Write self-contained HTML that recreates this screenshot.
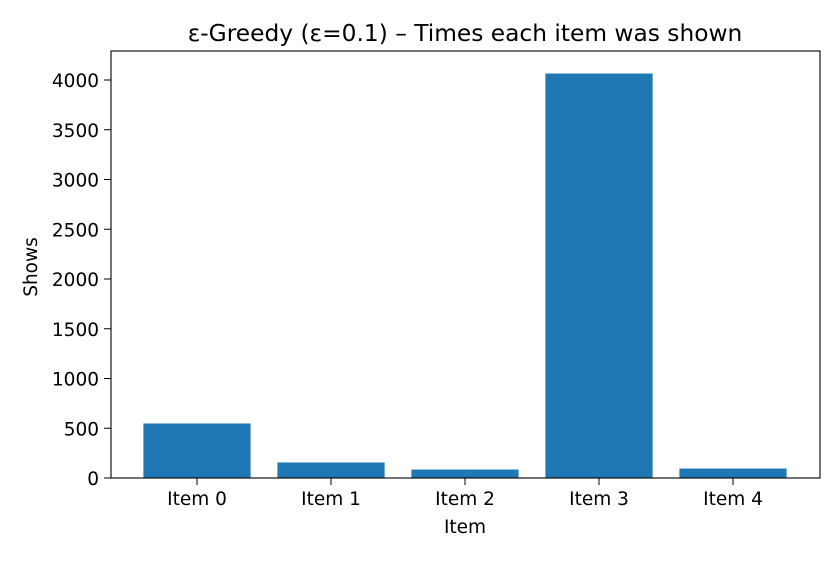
<!DOCTYPE html>
<html><head><meta charset="utf-8"><style>
body{margin:0;background:#fff;}
svg text{font-family:"DejaVu Sans","Liberation Sans",sans-serif;fill:#000;}
</style></head><body>
<svg id="chart" width="840" height="560">
<text x="465" y="41" text-anchor="middle" font-size="23.3">ε-Greedy (ε=0.1) – Times each item was shown</text>
<g id="plot"></g>
<rect x="111" y="51" width="709" height="427" fill="none" stroke="#000" stroke-width="1.1"/>
<text x="465" y="533" text-anchor="middle" font-size="18.5">Item</text>
<text transform="translate(37,267) rotate(-90)" text-anchor="middle" font-size="18.5">Shows</text>
</svg>
<script>
const categories=["Item 0","Item 1","Item 2","Item 3","Item 4"];
const shows=[548,156,85,4065,95];
const yTicks=[0,500,1000,1500,2000,2500,3000,3500,4000];
const NS="http://www.w3.org/2000/svg";
const g=document.getElementById("plot");
function y(v){return 478-v*0.09950;}
function x(i){return 197+i*134;}
function mk(t,a){const e=document.createElementNS(NS,t);for(const k in a)e.setAttribute(k,a[k]);g.appendChild(e);return e;}
shows.forEach((v,i)=>{
  const r=mk("rect",{x:x(i)-53.6,y:y(v),width:107.2,height:478-y(v),fill:"#1f77b4"});
  
  
});
categories.forEach((c,i)=>{
  const l=mk("line",{x1:x(i),x2:x(i),y1:478,y2:485,stroke:"#000"});
  
  
  const t=mk("text",{x:x(i),y:505,"text-anchor":"middle","font-size":"18.5"});
  t.textContent=c;
  
  
});
yTicks.forEach(v=>{
  const l=mk("line",{x1:104,x2:111,y1:y(v),y2:y(v),stroke:"#000"});
  
  
  const t=mk("text",{x:99,y:y(v)+7,"text-anchor":"end","font-size":"18.5"});
  t.textContent=v;
  
  
});
</script>
</body></html>
